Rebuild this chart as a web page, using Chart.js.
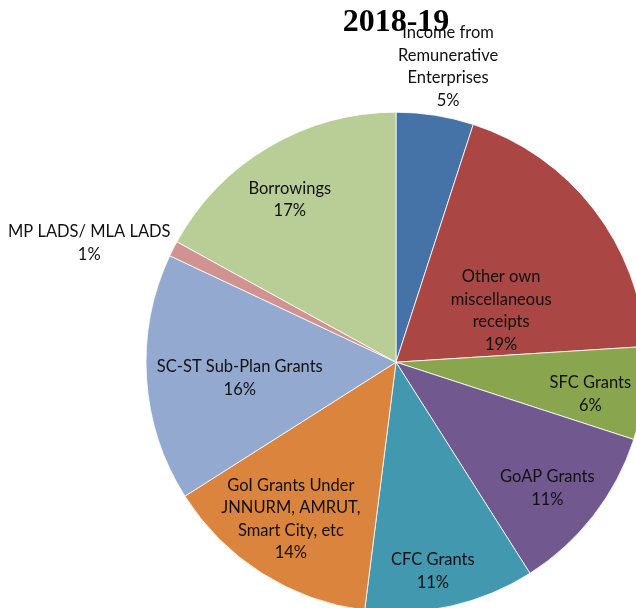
<!DOCTYPE html>
<html>
<head>
<meta charset="utf-8">
<script src="https://cdn.jsdelivr.net/npm/chart.js@4/dist/chart.umd.min.js"></script>
<style>
  html, body { margin: 0; padding: 0; background: #ffffff; overflow: hidden; }
  #wrap { position: relative; width: 636px; height: 608px; }
</style>
</head>
<body>
<div id="wrap"><canvas id="pie"></canvas></div>
<script>
// Receipt sources for 2018-19 (share of total, %)
const categories = [
  ['Income from', 'Remunerative', 'Enterprises'],
  ['Other own', 'miscellaneous', 'receipts'],
  ['SFC Grants'],
  ['GoAP Grants'],
  ['CFC Grants'],
  ['GoI Grants Under', 'JNNURM, AMRUT,', 'Smart City, etc'],
  ['SC-ST Sub-Plan Grants'],
  ['MP LADS/ MLA LADS'],
  ['Borrowings']
];
const shares = [5, 19, 6, 11, 11, 14, 16, 1, 17];
const chartTitle = '2018-19';

const sliceColors = ['#4572A7', '#AA4643', '#89A54E', '#71588F', '#4198AF',
                     '#DB843D', '#93A9CF', '#D19392', '#B9CD96'];

// label placement: distance from centre as a fraction of the radius,
// and a small angular nudge (degrees) from the slice's mid-angle
const labelRadius = [1.2, 0.468, 0.788, 0.788, 0.848, 0.756, 0.628, 1.316, 0.776];
const labelNudge  = [1, 11.8, 2.2, 2.0, 2.6, 1.4, -2.2, -5.8, -2.6];

const sliceLabels = {
  id: 'sliceLabels',
  afterDatasetsDraw(chart) {
    const ctx = chart.ctx;
    const meta = chart.getDatasetMeta(0);
    const values = chart.data.datasets[0].data;
    const lh = 22.5;
    ctx.save();
    ctx.font = '16.5px Lato';
    ctx.fillStyle = '#111111';
    ctx.textAlign = 'center';
    ctx.textBaseline = 'middle';
    meta.data.forEach((arc, i) => {
      const mid = (arc.startAngle + arc.endAngle) / 2 + labelNudge[i] * Math.PI / 180;
      const r = arc.outerRadius * labelRadius[i];
      const cx = arc.x + Math.cos(mid) * r;
      const cy = arc.y + Math.sin(mid) * r;
      const lines = [...chart.data.labels[i], values[i] + '%'];
      const y0 = cy - (lines.length - 1) * lh / 2;
      lines.forEach((t, k) => ctx.fillText(t, cx, y0 + k * lh));
    });
    ctx.restore();
  }
};

new Chart(document.getElementById('pie'), {
  type: 'pie',
  data: {
    labels: categories,
    datasets: [{
      data: shares,
      backgroundColor: sliceColors,
      borderColor: 'rgba(255,255,255,0.8)',
      borderWidth: 1,
      radius: 250
    }]
  },
  options: {
    responsive: true,
    maintainAspectRatio: false,
    animation: false,
    layout: { padding: { left: 156, right: 0, top: 0, bottom: 0 } },
    plugins: {
      legend: { display: false },
      tooltip: { enabled: false },
      title: {
        display: true,
        text: chartTitle,
        color: '#000000',
        font: { family: '"Liberation Serif", "Times New Roman", serif', size: 32, weight: 'bold', lineHeight: 1.2 },
        padding: { top: 4, bottom: 74 }
      }
    }
  },
  plugins: [sliceLabels]
});
</script>
</body>
</html>
